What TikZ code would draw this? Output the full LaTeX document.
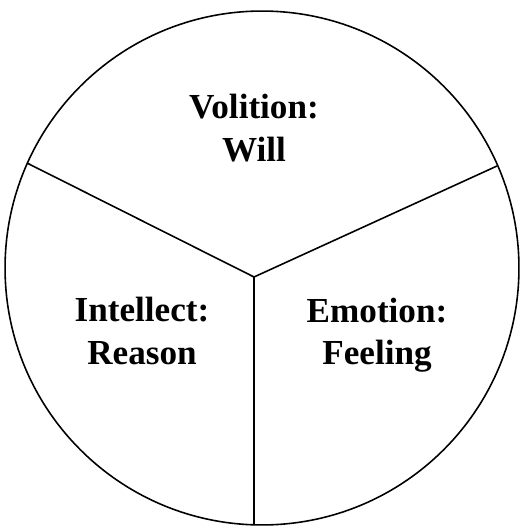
\documentclass[tikz,border=0pt]{standalone}
\usepackage{fontspec}
\setmainfont{Liberation Serif}
\usetikzlibrary{positioning}

\begin{document}
\begin{tikzpicture}[x=0.02cm, y=-0.02cm, line width=0.9pt,
  every node/.style={font=\fontsize{20}{24}\selectfont\bfseries, align=center}]
\useasboundingbox (0,0) rectangle (520,527);

% ---- outer circle ----
\draw (262,268) circle [radius=5.14cm];

% ---- dividing lines ----
\coordinate (hub) at (254,277);
\coordinate (leftend) at (27,163);
\coordinate (rightend) at (497,166);
\coordinate (bottomend) at (254,525);
\draw (hub) -- (leftend);
\draw (hub) -- (rightend);
\draw (hub) -- (bottomend);

% ---- labels ----
\node (volition) at (254,128) {Volition:\\Will};
\node (intellect) at (142,331) {Intellect:\\Reason};
\node (emotion) at (377,335) {Emotion:\\Feeling};
\end{tikzpicture}
\end{document}
